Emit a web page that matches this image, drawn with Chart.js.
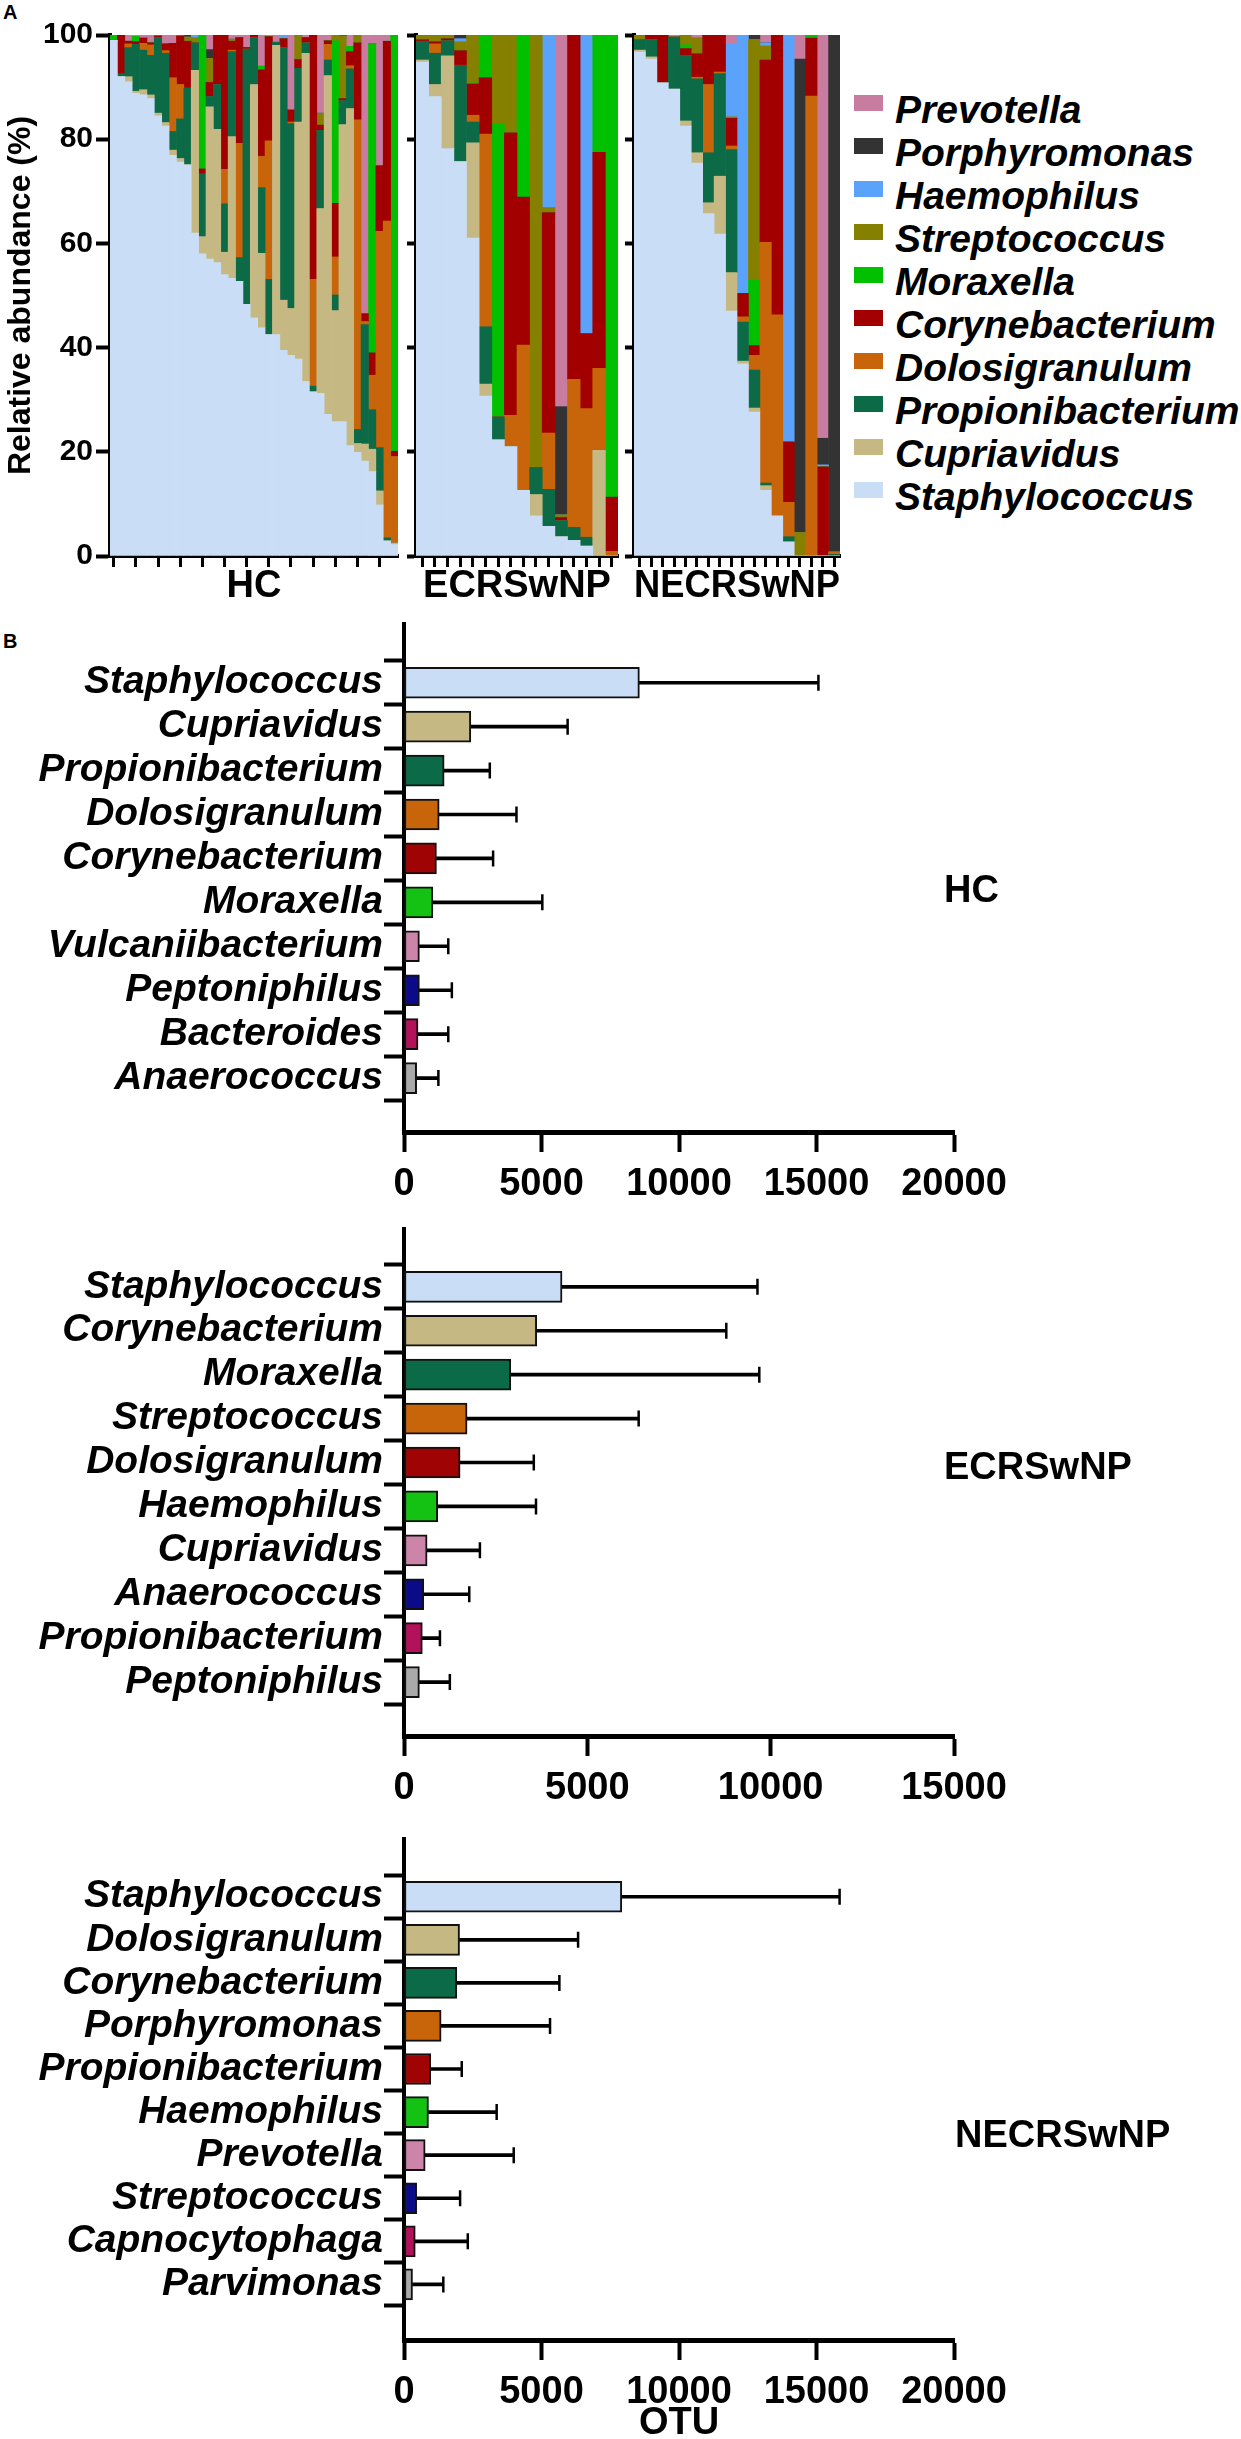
<!DOCTYPE html>
<html>
<head>
<meta charset="utf-8">
<title>Nasal microbiota</title>
<script src="https://cdn.jsdelivr.net/npm/chart.js@4.4.0/dist/chart.umd.min.js"></script>
<style>
  html, body { margin: 0; padding: 0; background: #fff; }
  #wrap { position: relative; width: 1241px; height: 2439px; overflow: hidden; font-family: "Liberation Sans", Arial, sans-serif; }
  canvas { position: absolute; }
  .panel { position: absolute; font-weight: bold; color: #000; }
  .grp { position: absolute; font-weight: bold; font-size: 38px; color: #000; line-height: 46px; }
  .leg { position: absolute; left: 854px; height: 43px; white-space: nowrap; }
  .leg span.sw { position: absolute; left: 0; top: 8px; width: 29px; height: 16px; }
  .leg span.tx { position: absolute; left: 41px; top: 0; font-size: 39px; font-weight: bold; font-style: italic; line-height: 45px; color: #000; }
</style>
</head>
<body>
<div id="wrap">
  <div class="panel" style="left:3px;top:1px;font-size:20px">A</div>
  <div class="panel" style="left:3px;top:630px;font-size:20px">B</div>
  <canvas id="hc" width="402" height="612" style="left:0;top:0"></canvas>
  <canvas id="ecr" width="222" height="612" style="left:400px;top:0"></canvas>
  <canvas id="necr" width="226" height="612" style="left:618px;top:0"></canvas>
  <div id="legend"></div>
  <canvas id="otuHc" width="1040" height="620" style="left:0;top:600px"></canvas>
  <canvas id="otuEcr" width="1040" height="610" style="left:0;top:1205px"></canvas>
  <canvas id="otuNecr" width="1040" height="624" style="left:0;top:1815px"></canvas>
  <div id="groups"></div>
</div>
<script>
// ---- panel A data: relative abundance (%) per sample, bottom to top ----
const taxa = ['Staphylococcus', 'Cupriavidus', 'Propionibacterium', 'Dolosigranulum', 'Corynebacterium',
              'Moraxella', 'Streptococcus', 'Haemophilus', 'Porphyromonas', 'Prevotella'];
const taxaColors = ['#c9ddf6', '#c6b882', '#0c6a47', '#c8650a', '#a20000',
                    '#00c000', '#858000', '#5aa2fa', '#333333', '#c87da0'];
const abundanceTicks = [0, 20, 40, 60, 80, 100];

const hcSamples = [
  [99, 0, 0, 0, 0, 1, 0, 0, 0, 0],
  [92, 0, 0.5, 0, 7.5, 0, 0, 0, 0, 0],
  [91, 1, 5.6, 0.7, 0.5, 0, 0, 0, 0, 1.2],
  [88.8, 0.4, 9, 0, 0.5, 1, 0, 0, 0, 0.3],
  [88.5, 1, 7.6, 1.3, 1, 0, 0, 0, 0, 0.6],
  [87.8, 0.7, 7.6, 2, 0.4, 0, 0, 0, 0, 1.5],
  [84.5, 0.5, 14.5, 0, 0.3, 0, 0, 0, 0, 0.2],
  [82.5, 0.7, 13.3, 0.5, 1.3, 0, 0, 0, 0, 1.7],
  [76.9, 1, 3.6, 10.3, 6.6, 0, 0, 0, 0, 1.6],
  [75.6, 0.7, 7.6, 6.6, 9.3, 0, 0, 0, 0, 0.2],
  [75.1, 0, 14.7, 0, 9, 0, 0.8, 0, 0.4, 0],
  [62, 31.2, 5.3, 0, 0, 0, 1, 0.5, 0, 0],
  [58, 3.3, 12, 0, 1, 25.7, 0, 0, 0, 0],
  [57, 29.2, 2, 0, 2.7, 0, 4.6, 0, 1.7, 2.8],
  [56.3, 25.6, 8.6, 0, 9.5, 0, 0, 0, 0, 0],
  [54, 4.3, 9.3, 6.6, 25.8, 0, 0, 0, 0, 0],
  [53.3, 27.2, 16.3, 0.3, 1.7, 0, 0.4, 0, 0, 0.8],
  [52.7, 0, 4.6, 21.9, 20.3, 0, 0, 0, 0, 0.5],
  [48.3, 0, 49, 0, 0.3, 0, 0, 0, 0, 2.4],
  [45.7, 44.8, 9, 0, 0.5, 0, 0, 0, 0, 0],
  [43.8, 14.3, 12.6, 6, 16.6, 0.7, 0, 0, 0, 6],
  [42.5, 0, 10.6, 26.6, 20, 0, 0, 0, 0, 0.3],
  [42.5, 55.5, 0.6, 0, 0, 0, 0, 0, 0, 1.4],
  [39.5, 9.6, 48.5, 0, 1.7, 0, 0, 0.7, 0, 0],
  [38.5, 9, 35.5, 0.3, 2.3, 0, 0, 0, 0, 14.4],
  [37.8, 45.5, 10.3, 0, 1.7, 0, 4.7, 0, 0, 0],
  [33.5, 63, 2, 0, 1, 0, 0, 0, 0, 0.5],
  [31.5, 0, 1.1, 20.5, 46.9, 0, 0, 0, 0, 0],
  [31.2, 35.5, 15, 0, 1, 0, 2.3, 0, 0, 15],
  [27.2, 65, 3, 3, 0.7, 0, 0, 0, 0, 1.1],
  [25.8, 21.3, 3, 7.3, 10.3, 31.2, 1.1, 0, 0, 0],
  [25.8, 57, 4.6, 0, 0.4, 0, 12, 0, 0.2, 0],
  [21.2, 64.7, 7.6, 0.6, 2.7, 1, 0, 0, 0, 2.2],
  [19.9, 1.7, 2.7, 59.4, 14.8, 0, 1.5, 0, 0, 0],
  [18.2, 3.3, 22.9, 0.6, 1.5, 0, 0, 0, 0, 53.5],
  [16.2, 4.3, 7.6, 6.6, 4.3, 59.4, 0, 0, 0, 1.6],
  [9.8, 2.7, 8.3, 41.5, 12.6, 0, 0, 0, 0, 25.1],
  [2.9, 0, 0.6, 60.8, 34.5, 0, 0, 0, 0, 1.2],
  [2.2, 0.3, 0, 16.6, 1, 79.9, 0, 0, 0, 0]
];

const ecrSamples = [
  [94.8, 0.4, 3.6, 0, 0.3, 0, 0.9, 0, 0, 0],
  [88.2, 2.3, 6, 1.8, 0.4, 0, 1.3, 0, 0, 0],
  [78.2, 17.8, 2.9, 0, 0.4, 0, 0.7, 0, 0, 0],
  [75.7, 0, 18.5, 0, 2.8, 0, 1.7, 0.6, 0.7, 0],
  [61, 18.3, 4, 1.3, 6, 0.2, 9.2, 0, 0, 0],
  [30.7, 2.3, 11, 37, 10.8, 8.2, 0, 0, 0, 0],
  [22.3, 0, 4.4, 0, 0, 56.2, 17.1, 0, 0, 0],
  [21, 0, 0, 6, 54.2, 0, 18.8, 0, 0, 0],
  [12.6, 0, 0, 27.9, 28.4, 31.1, 0, 0, 0, 0],
  [7.7, 4.1, 5.2, 0, 0, 0, 83, 0, 0, 0],
  [5.7, 0, 7.1, 10.8, 42.3, 0, 1, 33.1, 0, 0],
  [3.7, 0, 3.1, 0, 0.6, 0, 0.5, 0, 20.8, 71.3],
  [3, 0, 2.5, 28.4, 66.1, 0, 0, 0, 0, 0],
  [1.9, 0, 1.7, 24.7, 14.4, 0, 0, 57.3, 0, 0],
  [0, 20.3, 0, 15.7, 41.5, 22.5, 0, 0, 0, 0],
  [0, 0, 0, 0.9, 10.4, 88.7, 0, 0, 0, 0]
];

const necrSamples = [
  [96.7, 0.4, 2, 0, 0, 0, 0.9, 0, 0, 0],
  [95.4, 0.4, 3.3, 0, 0.9, 0, 0, 0, 0, 0],
  [90.8, 0, 0, 0, 9.2, 0, 0, 0, 0, 0],
  [89.6, 0, 10, 0, 0, 0, 0, 0, 0, 0.4],
  [82.5, 1, 12.6, 0, 1.3, 0.7, 1.9, 0, 0, 0],
  [75.4, 2, 14.2, 0.3, 4.5, 0, 3, 0, 0, 0.6],
  [65.7, 2.1, 9.6, 13.1, 9.5, 0, 0, 0, 0, 0],
  [61.8, 11.1, 19.7, 0.3, 7.1, 0, 0, 0, 0, 0],
  [47, 7.4, 23.6, 0.7, 5.3, 0, 0.3, 14.1, 0, 1.6],
  [36.9, 0.5, 7.5, 1, 4.5, 0, 0, 49.6, 0, 0],
  [27.6, 0.8, 7.3, 2.8, 1.9, 12.6, 46.1, 0, 0.9, 0],
  [12.6, 0.9, 0.5, 46.2, 35, 0, 2.7, 0.6, 0, 1.5],
  [7.7, 0, 0, 38.6, 53.7, 0, 0, 0, 0, 0],
  [2.7, 0, 1, 6.6, 11.6, 0, 0, 78.1, 0, 0],
  [0, 0, 0, 0, 0, 0, 4.5, 0, 90.9, 4.6],
  [0, 0, 0, 88.3, 11.1, 0.6, 0, 0, 0, 0],
  [0, 0, 0, 0, 17.1, 0, 0, 0.4, 5.1, 77.4],
  [0, 0, 0.3, 0.5, 0, 0, 0, 0, 99.2, 0]
];

// ---- panel B data: top 10 genera, mean OTU and SD ----
const rankColors = ['#c9ddf6', '#c5b883', '#0b6a47', '#c8650b', '#a00303',
                    '#13c213', '#cc85a8', '#0b0b8a', '#b3125a', '#a9a9a9'];
const otuTicksWide = [0, 5000, 10000, 15000, 20000];
const otuTicksNarrow = [0, 5000, 10000, 15000];

const hcGenera = ['Staphylococcus', 'Cupriavidus', 'Propionibacterium', 'Dolosigranulum', 'Corynebacterium',
                  'Moraxella', 'Vulcaniibacterium', 'Peptoniphilus', 'Bacteroides', 'Anaerococcus'];
const hcMean = [8560, 2430, 1460, 1280, 1180, 1050, 560, 560, 510, 460];
const hcSd = [6510, 3520, 1660, 2810, 2060, 3980, 1050, 1180, 1100, 790];

const ecrGenera = ['Staphylococcus', 'Corynebacterium', 'Moraxella', 'Streptococcus', 'Dolosigranulum',
                   'Haemophilus', 'Cupriavidus', 'Anaerococcus', 'Propionibacterium', 'Peptoniphilus'];
const ecrMean = [4310, 3620, 2910, 1720, 1530, 920, 630, 540, 500, 420];
const ecrSd = [5330, 5170, 6780, 4680, 2010, 2680, 1440, 1240, 480, 830];

const necrGenera = ['Staphylococcus', 'Dolosigranulum', 'Corynebacterium', 'Porphyromonas', 'Propionibacterium',
                    'Haemophilus', 'Prevotella', 'Streptococcus', 'Capnocytophaga', 'Parvimonas'];
const necrMean = [7920, 2020, 1920, 1350, 970, 890, 770, 460, 410, 310];
const necrSd = [7920, 4310, 3730, 3960, 1130, 2480, 3220, 1580, 1910, 1120];

const groupNames = ['HC', 'ECRSwNP', 'NECRSwNP'];

Chart.defaults.font.family = '"Liberation Sans", Arial, sans-serif';
Chart.defaults.color = '#000';

// ---- panel A: stacked relative abundance ----
function stackChart(id, samples, title, showLabels, tickEvery) {
  return new Chart(document.getElementById(id), {
    type: 'bar',
    data: {
      labels: samples.map((s, i) => String(i + 1)),
      datasets: taxa.map((name, t) => ({
        label: name,
        data: samples.map(s => s[t]),
        backgroundColor: taxaColors[t],
        borderWidth: 0,
        barPercentage: 1,
        categoryPercentage: 1
      }))
    },
    options: {
      responsive: false,
      animation: false,
      events: [],
      layout: { padding: { top: 35, right: 4, left: 0, bottom: 0 } },
      plugins: { legend: { display: false }, tooltip: { enabled: false } },
      scales: {
        x: {
          stacked: true,
          grid: {
            offset: false, drawOnChartArea: false, drawTicks: true, tickLength: 11, tickWidth: 3,
            tickColor: ctx => (ctx.index % tickEvery === 0 ? '#000' : 'rgba(0,0,0,0)')
          },
          border: { display: true, width: 4, color: '#000' },
          ticks: { display: false },
          title: { display: true, text: title, color: '#000', font: { size: 38, weight: 'bold', lineHeight: 1 }, padding: { top: 0, bottom: 6 } },
          afterFit: s => { s.height = 56; }
        },
        y: {
          stacked: true,
          min: 0,
          max: 100,
          afterBuildTicks: s => { s.ticks = abundanceTicks.map(v => ({ value: v })); },
          grid: { drawOnChartArea: false, drawTicks: true, tickLength: showLabels ? 14 : 9, tickWidth: 4, tickColor: '#000' },
          border: { display: true, width: 4, color: '#000' },
          ticks: { display: showLabels, color: '#000', padding: 3, font: { size: 30, weight: 'bold' } },
          title: { display: showLabels, text: 'Relative abundance (%)', color: '#000', font: { size: 32, weight: 'bold' }, padding: { top: 2, bottom: 0 } },
          afterFit: s => { s.width = showLabels ? 110 : 16; }
        }
      }
    }
  });
}

stackChart('hc', hcSamples, groupNames[0], true, 3);
stackChart('ecr', ecrSamples, groupNames[1], false, 1);
stackChart('necr', necrSamples, groupNames[2], false, 1);

// legend for panel A (top entry = top of stack)
const legendBox = document.getElementById('legend');
taxa.slice().reverse().forEach((name, k) => {
  const t = taxa.indexOf(name);
  const row = document.createElement('div');
  row.className = 'leg';
  row.style.top = (87 + k * 43) + 'px';
  row.innerHTML = '<span class="sw" style="background:' + taxaColors[t] + '"></span><span class="tx">' + name + '</span>';
  legendBox.appendChild(row);
});

// ---- panel B: mean OTU with SD whiskers ----
function otuChart(id, genera, means, sds, xTicks, yMin, yMax, padTop, xHeight, xTitle) {
  return new Chart(document.getElementById(id), {
    type: 'bar',
    data: {
      datasets: [
        {
          data: means.map((m, i) => ({ x: m, y: i })),
          backgroundColor: rankColors,
          borderColor: '#111',
          borderWidth: 2,
          borderSkipped: false,
          barThickness: 31,
          grouped: false,
          order: 0
        },
        {
          data: means.map((m, i) => ({ x: [m, m + sds[i]], y: i })),
          backgroundColor: '#000',
          borderWidth: 0,
          barThickness: 3,
          grouped: false,
          order: 1
        },
        {
          type: 'scatter',
          data: means.map((m, i) => ({ x: m + sds[i], y: i })),
          pointStyle: 'line',
          rotation: 90,
          radius: 8,
          borderColor: '#000',
          borderWidth: 2.5,
          order: 0
        }
      ]
    },
    options: {
      indexAxis: 'y',
      responsive: false,
      animation: false,
      events: [],
      layout: { padding: { top: padTop, right: 86, left: 0, bottom: 0 } },
      plugins: { legend: { display: false }, tooltip: { enabled: false } },
      scales: {
        x: {
          type: 'linear',
          min: xTicks[0],
          max: xTicks[xTicks.length - 1],
          afterBuildTicks: s => { s.ticks = xTicks.map(v => ({ value: v })); },
          grid: { drawOnChartArea: false, drawTicks: true, tickLength: 20, tickWidth: 4, tickColor: '#000' },
          border: { display: true, width: 5, color: '#000' },
          ticks: { color: '#000', padding: 10, autoSkip: false, maxRotation: 0, font: { size: 38, weight: 'bold' }, callback: v => String(v) },
          title: { display: !!xTitle, text: xTitle, color: '#000', font: { size: 38, weight: 'bold', lineHeight: 0.8 }, padding: { top: 0, bottom: 0 } },
          afterFit: s => { s.height = xHeight; }
        },
        y: {
          type: 'linear',
          reverse: true,
          min: yMin,
          max: yMax,
          afterBuildTicks: s => { s.ticks = genera.map((g, i) => ({ value: i })); },
          grid: { drawOnChartArea: false, drawTicks: true, tickLength: 20, tickWidth: 4, tickColor: '#000' },
          border: { display: true, width: 4, color: '#000' },
          ticks: { color: '#000', padding: 1, autoSkip: false, font: { size: 39, weight: 'bold', style: 'italic' }, callback: v => genera[v] },
          afterFit: s => { s.width = 404; }
        }
      }
    }
  });
}

otuChart('otuHc', hcGenera, hcMean, hcSd, otuTicksWide, -0.75, 9.65, 18, 88, '');
otuChart('otuEcr', ecrGenera, ecrMean, ecrSd, otuTicksNarrow, -0.73, 9.65, 18, 79, '');
otuChart('otuNecr', necrGenera, necrMean, necrSd, otuTicksWide, -0.75, 9.71, 10, 99, 'OTU');

// group names beside panel B
const groupPos = [[944, 866], [944, 1443], [955, 2111]];
const groupsBox = document.getElementById('groups');
groupNames.forEach((g, k) => {
  const d = document.createElement('div');
  d.className = 'grp';
  d.style.left = groupPos[k][0] + 'px';
  d.style.top = groupPos[k][1] + 'px';
  d.textContent = g;
  groupsBox.appendChild(d);
});
</script>
</body>
</html>
